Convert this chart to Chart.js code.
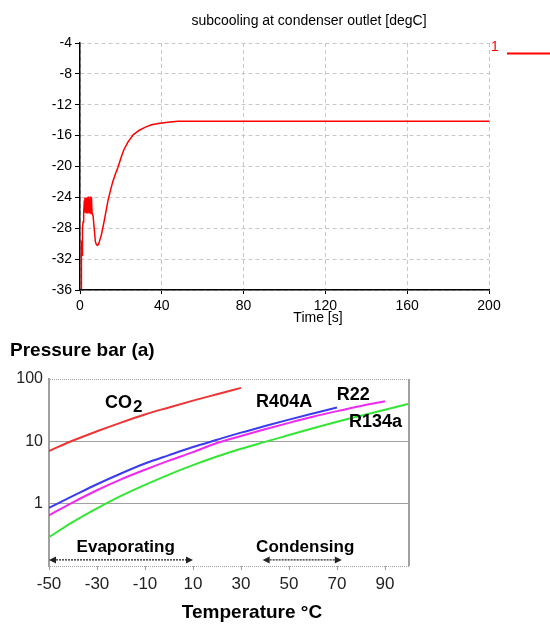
<!DOCTYPE html>
<html lang="en">
<head>
    <title>Subcooling and saturation pressure</title>
    <script src="https://cdn.jsdelivr.net/npm/chart.js"></script>
    <style>
        body { margin: 0; background: #fff; }
        .chart-container {
            position: absolute;
            left: 0;
            width: 550px;
        }
        #topBox { top: 0; height: 330px; }
        #bottomBox { top: 330px; height: 295px; }
        canvas { display: block; }
    </style>
</head>
<body>
    <div class="chart-container" id="topBox"><canvas id="subChart"></canvas></div>
    <div class="chart-container" id="bottomBox"><canvas id="pressChart"></canvas></div>

<script>
// --- top chart: subcooling at condenser outlet ---
const timeSec = [0.5, 0.6, 0.7, 0.8, 1.0, 1.2, 1.5, 1.8, 2.1, 2.4,
    2.6, 2.8, 3.0, 3.2, 3.4, 3.6, 3.8, 4.0, 4.2, 4.4,
    4.6, 4.8, 5.0, 5.2, 5.4, 5.6, 5.9, 6.4, 7.0, 7.5,
    8.0, 8.5, 9.0, 9.5, 10.4, 11.2, 12.1, 13.0, 13.7, 15.0,
    16.1, 17.4, 18.6, 20.0, 21.5, 23.5, 26, 29, 32, 35,
    39, 44, 48, 60, 80, 100, 140, 200];
const subcooling = [-35.8, -29.6, -32.0, -29.8, -31.5, -28.0, -27.2, -26.0, -24.5, -24.0,
    -25.9, -24.1, -26.0, -24.0, -25.8, -24.2, -26.1, -23.9, -25.7, -24.3,
    -26.0, -24.2, -25.8, -23.9, -26.1, -24.0, -26.0, -26.4, -28.2, -29.7,
    -30.1, -30.2, -30.1, -29.7, -28.9, -27.9, -26.7, -25.4, -24.4, -23.0,
    -21.9, -20.9, -20.1, -18.9, -17.8, -16.8, -15.9, -15.3, -14.9, -14.6,
    -14.4, -14.25, -14.15, -14.13, -14.13, -14.13, -14.13, -14.13];
const seriesName = '1';

// --- bottom chart: saturation pressure vs temperature ---
const temps = [-50, -40, -30, -20, -10, 0, 10, 20, 30, 40, 50, 60, 70, 80, 90, 100];
const co2   = [7.0, 10.3, 14.5, 20.0, 27.0, 35.0, 45.0, 57.0, 72.0, null, null, null, null, null, null, null];
const r404a = [0.86, 1.33, 2.05, 3.05, 4.4, 6.0, 8.1, 10.6, 13.8, 17.6, 22.3, 28.0, 35.0, null, null, null];
const r22   = [0.65, 1.05, 1.64, 2.45, 3.5, 4.9, 6.7, 9.4, 12.2, 15.6, 19.8, 24.8, 30.5, 37.0, 44.0, null];
const r134a = [0.29, 0.51, 0.84, 1.33, 2.0, 2.93, 4.15, 5.7, 7.6, 9.8, 12.6, 16.2, 20.6, 25.8, 32.2, 40.0];
const tempTicks = [-50, -30, -10, 10, 30, 50, 70, 90];
const pressTicks = [0.1, 1, 10, 100];

const refLabels = ['CO2', 'R404A', 'R22', 'R134a'];
const refLabelT = [-26.7, 36.3, 69.9, 75.0];
const refLabelP = [41.5, 43.5, 54.4, 20.7];
const phaseLabels = ['Evaporating', 'Condensing'];
const phaseLabelT = [-38.5, 36.3];
const phaseFrom = [-50, 39];
const phaseTo = [10, 72];

Chart.defaults.font.family = '"Liberation Sans", Arial, sans-serif';
Chart.defaults.color = '#000';

function toPoints(xs, ys) {
    const pts = [];
    xs.forEach((x, i) => {
        if (ys[i] !== null) pts.push({ x: x, y: ys[i] });
    });
    return pts;
}

// titles and legend for the top chart
const topDecor = {
    id: 'topDecor',
    afterDraw(chart) {
        const ctx = chart.ctx;
        const ds = chart.data.datasets[0];
        ctx.save();
        ctx.fillStyle = '#000';
        ctx.font = '14px "Liberation Sans", Arial, sans-serif';
        ctx.textAlign = 'center';
        ctx.textBaseline = 'middle';
        ctx.fillText('subcooling at condenser outlet [degC]', 309, 21);
        ctx.fillText('Time [s]', 318, 318);
        // legend
        ctx.fillStyle = ds.borderColor;
        ctx.fillText(ds.label, 495, 47);
        ctx.strokeStyle = ds.borderColor;
        ctx.lineWidth = 2;
        ctx.beginPath();
        ctx.moveTo(507, 53.5);
        ctx.lineTo(550, 53.5);
        ctx.stroke();
        ctx.restore();
    }
};

new Chart(document.getElementById('subChart').getContext('2d'), {
    type: 'line',
    data: {
        datasets: [{
            label: seriesName,
            data: toPoints(timeSec, subcooling),
            borderColor: '#ff0000',
            borderWidth: 1.5,
            pointRadius: 0,
            tension: 0,
            fill: false
        }]
    },
    options: {
        responsive: true,
        maintainAspectRatio: false,
        animation: false,
        layout: { padding: { left: 0, right: 61, top: 43, bottom: 0 } },
        plugins: { legend: { display: false }, tooltip: { enabled: false } },
        scales: {
            x: {
                type: 'linear',
                min: 0,
                max: 200,
                ticks: { stepSize: 40, padding: 4, font: { size: 14 }, color: '#000', maxRotation: 0 },
                grid: { color: '#c8c8c8', tickColor: '#000', tickLength: 4 },
                border: { display: true, color: '#000', width: 1.5, dash: [4, 3] },
                afterFit(scale) { scale.height = 40; }
            },
            y: {
                min: -36,
                max: -4,
                ticks: { stepSize: 4, padding: 3, font: { size: 14 }, color: '#000' },
                grid: { color: '#c8c8c8', tickColor: '#000', tickLength: 5 },
                border: { display: true, color: '#000', width: 1.5, dash: [4, 3] },
                afterFit(scale) { scale.width = 80; }
            }
        }
    },
    plugins: [topDecor]
});

// labels, arrows and frame for the pressure chart
const pressDecor = {
    id: 'pressDecor',
    afterDraw(chart) {
        const ctx = chart.ctx;
        const xs = chart.scales.x;
        const ys = chart.scales.y;
        const area = chart.chartArea;
        ctx.save();
        // right frame
        ctx.strokeStyle = '#a0a0a0';
        ctx.lineWidth = 2;
        ctx.beginPath();
        ctx.moveTo(area.right, area.top);
        ctx.lineTo(area.right, area.bottom);
        ctx.stroke();

        ctx.fillStyle = '#000';
        ctx.textBaseline = 'middle';
        ctx.textAlign = 'left';
        const bold = (s) => 'bold ' + s + 'px "Liberation Sans", Arial, sans-serif';

        // refrigerant names
        refLabels.forEach((txt, i) => {
            const px = xs.getPixelForValue(refLabelT[i]);
            const py = ys.getPixelForValue(refLabelP[i]);
            ctx.font = bold(18);
            if (txt === 'CO2') {
                ctx.fillText('CO', px, py);
                const w = ctx.measureText('CO').width;
                ctx.font = bold(17);
                ctx.fillText('2', px + w + 1, py + 5);
            } else {
                ctx.fillText(txt, px, py);
            }
        });

        // evaporating / condensing ranges
        const labelY = ys.getPixelForValue(0.2);
        const arrowY = ys.getPixelForValue(0.125);
        phaseLabels.forEach((txt, i) => {
            ctx.font = bold(17);
            ctx.fillStyle = '#000';
            ctx.fillText(txt, xs.getPixelForValue(phaseLabelT[i]), labelY);
            const x1 = xs.getPixelForValue(phaseFrom[i]);
            const x2 = xs.getPixelForValue(phaseTo[i]);
            ctx.strokeStyle = '#222';
            ctx.lineWidth = 1.2;
            ctx.setLineDash([2, 1]);
            ctx.beginPath();
            ctx.moveTo(x1 + 4, arrowY);
            ctx.lineTo(x2 - 4, arrowY);
            ctx.stroke();
            ctx.setLineDash([]);
            ctx.fillStyle = '#222';
            ctx.beginPath();
            ctx.moveTo(x1, arrowY);
            ctx.lineTo(x1 + 7, arrowY - 3.5);
            ctx.lineTo(x1 + 7, arrowY + 3.5);
            ctx.closePath();
            ctx.fill();
            ctx.beginPath();
            ctx.moveTo(x2, arrowY);
            ctx.lineTo(x2 - 7, arrowY - 3.5);
            ctx.lineTo(x2 - 7, arrowY + 3.5);
            ctx.closePath();
            ctx.fill();
        });

        // axis titles
        ctx.fillStyle = '#000';
        ctx.font = bold(19);
        ctx.textAlign = 'left';
        ctx.fillText('Pressure bar (a)', 10, 21);
        ctx.textAlign = 'center';
        ctx.fillText('Temperature \u00B0C', 252, 283);
        ctx.restore();
    }
};

const lineStyle = { borderWidth: 2, pointRadius: 0, tension: 0.4, cubicInterpolationMode: 'monotone', fill: false };

new Chart(document.getElementById('pressChart').getContext('2d'), {
    type: 'line',
    data: {
        datasets: [
            Object.assign({ label: 'CO2', data: toPoints(temps, co2), borderColor: '#f03434' }, lineStyle),
            Object.assign({ label: 'R404A', data: toPoints(temps, r404a), borderColor: '#3a3cf0' }, lineStyle),
            Object.assign({ label: 'R22', data: toPoints(temps, r22), borderColor: '#f028f0' }, lineStyle),
            Object.assign({ label: 'R134a', data: toPoints(temps, r134a), borderColor: '#34e634' }, lineStyle)
        ]
    },
    options: {
        responsive: true,
        maintainAspectRatio: false,
        animation: false,
        layout: { padding: { left: 0, right: 141, top: 49, bottom: 0 } },
        plugins: { legend: { display: false }, tooltip: { enabled: false } },
        scales: {
            x: {
                type: 'linear',
                min: -50,
                max: 100,
                afterBuildTicks(scale) { scale.ticks = tempTicks.map(v => ({ value: v })); },
                ticks: { padding: 4, font: { size: 17 }, color: '#222', maxRotation: 0, autoSkip: false },
                grid: { drawOnChartArea: false, drawTicks: true, tickLength: 4, tickColor: '#a0a0a0' },
                border: { display: false },
                afterFit(scale) { scale.height = 59; }
            },
            y: {
                type: 'logarithmic',
                min: 0.1,
                max: 100,
                afterBuildTicks(scale) { scale.ticks = pressTicks.map(v => ({ value: v })); },
                ticks: {
                    padding: 6,
                    font: { size: 16 },
                    color: '#222',
                    autoSkip: false,
                    callback: (v) => (v >= 1 ? String(v) : '')
                },
                grid: {
                    drawTicks: false,
                    color: '#a0a0a0',
                    lineWidth: 1
                },
                border: {
                    display: true,
                    color: '#a0a0a0',
                    width: 2,
                    dash: (c) => (c.tick && (c.tick.value === 100 || c.tick.value === 0.1)) ? [1, 1] : []
                },
                afterFit(scale) { scale.width = 49; }
            }
        }
    },
    plugins: [pressDecor]
});
</script>
</body>
</html>
